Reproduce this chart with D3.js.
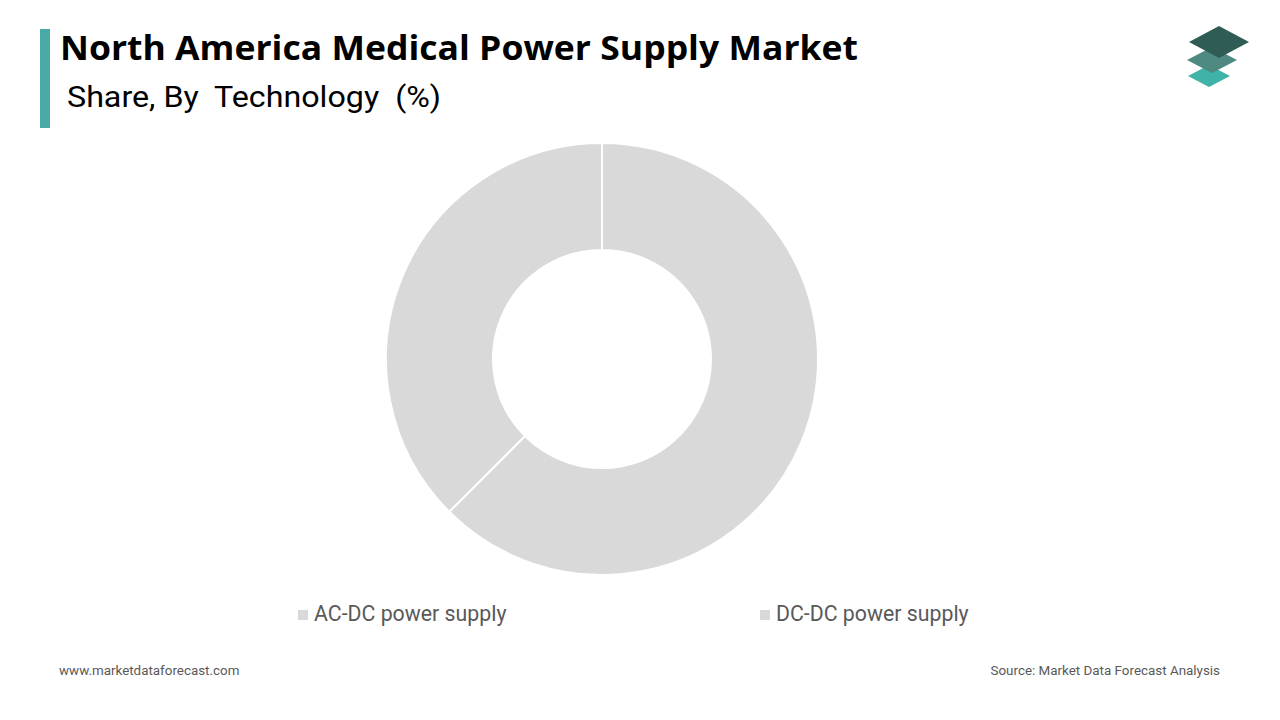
<!DOCTYPE html>
<html><head><meta charset="utf-8">
<script src="https://cdn.jsdelivr.net/npm/d3@7"></script>
<style>body{margin:0;background:#fff;font-family:Roboto,"Noto Sans",sans-serif}</style>
</head><body>
<svg id="c" width="1280" height="720"></svg>
<script>
const categories = ["AC-DC power supply", "DC-DC power supply"];
const values = [62.5, 37.5];
const colors = ["#d9d9d9", "#d9d9d9"];

const svg = d3.select("#c");
svg.append("rect").attr("x",40).attr("y",29).attr("width",10).attr("height",99).attr("fill","#4aaaa5");
svg.append("text").attr("x",60).attr("y",60).attr("font-family","'Open Sans'").attr("font-size",34).attr("font-weight",700).attr("fill","#000").attr("textLength",798).attr("lengthAdjust","spacingAndGlyphs").text("North America Medical Power Supply Market");
svg.append("text").attr("x",67).attr("y",107).attr("font-size",29).attr("fill","#000").attr("xml:space","preserve").attr("textLength",374).attr("lengthAdjust","spacingAndGlyphs").text("Share, By  Technology  (%)");

// logo
const lg = svg.append("g");
const dia = (cx,cy,w,h,f)=>lg.append("path").attr("d",`M${cx},${cy-h/2}L${cx+w/2},${cy}L${cx},${cy+h/2}L${cx-w/2},${cy}Z`).attr("fill",f);
dia(1209,76,42,22,"#3fb3a8");
dia(1212,60,50,26,"#4e8a82");
dia(1219,42,60,32,"#2f5c55");

const pie = d3.pie().sort(null).value(d=>d)(values);
const arc = d3.arc().innerRadius(109).outerRadius(216);
const g = svg.append("g").attr("transform","translate(602,359)");
g.selectAll("path").data(pie).join("path").attr("d",arc).attr("fill",(d,i)=>colors[i]).attr("stroke","#fff").attr("stroke-width",2);

const lx = [298, 760];
categories.forEach((c,i)=>{
  svg.append("rect").attr("x",lx[i]).attr("y",610).attr("width",10).attr("height",10).attr("fill",colors[i]);
  svg.append("text").attr("x",lx[i]+16).attr("y",621).attr("font-size",21.3).attr("fill","#595959").text(c);
});
svg.append("text").attr("x",59).attr("y",675).attr("font-size",13.4).attr("fill","#595959").text("www.marketdataforecast.com");
svg.append("text").attr("x",1220).attr("y",675).attr("text-anchor","end").attr("font-size",13.4).attr("fill","#595959").text("Source: Market Data Forecast Analysis");
</script></body></html>
